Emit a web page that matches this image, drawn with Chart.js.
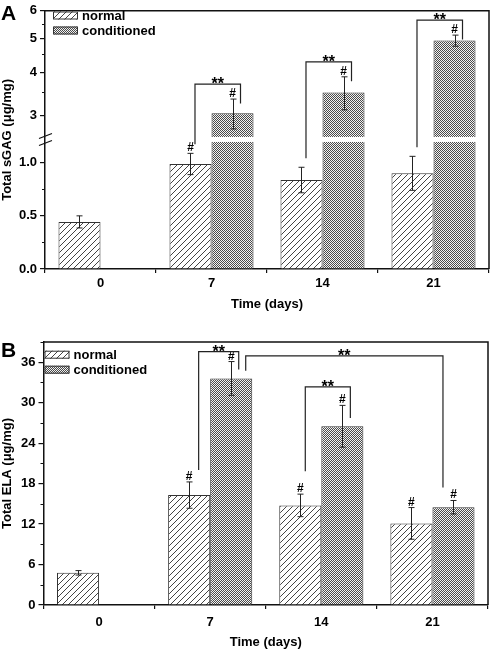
<!DOCTYPE html>
<html>
<head>
<meta charset="utf-8">
<script src="https://cdn.jsdelivr.net/npm/chart.js@4.4.1/dist/chart.umd.min.js"></script>
<style>
  html, body { margin: 0; padding: 0; background: #fff; }
  #wrapA { position: absolute; left: 0; top: 0; width: 491px; height: 322px; }
  #wrapB { position: absolute; left: 0; top: 325px; width: 491px; height: 326px; }
</style>
</head>
<body>
<div id="wrapA"><canvas id="chartA" width="491" height="322"></canvas></div>
<div id="wrapB"><canvas id="chartB" width="491" height="326"></canvas></div>
<script>
// ---- data ----
var days = ['0', '7', '14', '21'];
var seriesNames = ['normal', 'conditioned'];

var sgagNormal    = [0.443, 0.988, 0.837, 0.90];
var sgagNormalErr = [0.057, 0.10, 0.12, 0.16];
var sgagCond      = [null, 3.05, 3.50, 4.93];
var sgagCondErr   = [null, 0.30, 0.38, 0.18];
var sgagHashNormal = [false, true, false, false];
var sgagHashCond   = [false, true, true, true];
var sgagTicks      = [0, 0.5, 1.0, 3, 4, 5, 6];
var sgagTickLabels = ['0.0', '0.5', '1.0', '3', '4', '5', '6'];
var sgagMinor      = [0.25, 0.75, 3.5, 4.5, 5.5];

var elaNormal    = [4.77, 16.3, 14.77, 12.1];
var elaNormalErr = [0.33, 1.95, 1.67, 2.35];
var elaCond      = [null, 33.6, 26.5, 14.5];
var elaCondErr   = [null, 2.5, 3.1, 1.0];
var elaHashNormal = [false, true, true, true];
var elaHashCond   = [false, true, true, true];
var elaTicks      = [0, 6, 12, 18, 24, 30, 36];
var elaTickLabels = ['0', '6', '12', '18', '24', '30', '36'];
var elaMinor      = [3, 9, 15, 21, 27, 33, 39];

var FONT = "'Liberation Sans', Arial, sans-serif";
var INK = '#111';

// ---- broken y axis for panel A: linear 0-1.2 below, log 2.6-6 above ----
var LOW_TOP = 1.2, HIGH_BOTTOM = 2.6, HIGH_TOP = 6;
var LOW_FRAC = 0.494, HIGH_FRAC = 0.5095;

function brokenDecimal(v) {
  if (v <= LOW_TOP) return v / LOW_TOP * LOW_FRAC;
  if (v < HIGH_BOTTOM) return LOW_FRAC + (v - LOW_TOP) / (HIGH_BOTTOM - LOW_TOP) * (HIGH_FRAC - LOW_FRAC);
  return HIGH_FRAC + Math.log(v / HIGH_BOTTOM) / Math.log(HIGH_TOP / HIGH_BOTTOM) * (1 - HIGH_FRAC);
}
function brokenValue(d) {
  if (d <= LOW_FRAC) return d / LOW_FRAC * LOW_TOP;
  if (d < HIGH_FRAC) return LOW_TOP + (d - LOW_FRAC) / (HIGH_FRAC - LOW_FRAC) * (HIGH_BOTTOM - LOW_TOP);
  return HIGH_BOTTOM * Math.pow(HIGH_TOP / HIGH_BOTTOM, (d - HIGH_FRAC) / (1 - HIGH_FRAC));
}

class BrokenScale extends Chart.LinearScale {
  getPixelForValue(value) {
    if (value === null || value === undefined || isNaN(value)) return NaN;
    return this.getPixelForDecimal(brokenDecimal(value));
  }
  getValueForPixel(pixel) {
    return brokenValue(this.getDecimalForPixel(pixel));
  }
}
BrokenScale.id = 'broken';
BrokenScale.defaults = Chart.LinearScale.defaults;
Chart.register(BrokenScale);

// ---- fill patterns ----
function makeHatch() {
  var c = document.createElement('canvas');
  c.width = 6; c.height = 6;
  var g = c.getContext('2d');
  g.fillStyle = '#fff';
  g.fillRect(0, 0, 6, 6);
  g.strokeStyle = '#444';
  g.lineWidth = 1;
  g.beginPath();
  g.moveTo(-3, 3); g.lineTo(3, -3);
  g.moveTo(0, 6); g.lineTo(6, 0);
  g.moveTo(3, 9); g.lineTo(9, 3);
  g.stroke();
  return g.createPattern(c, 'repeat');
}
function makeDots() {
  var c = document.createElement('canvas');
  c.width = 2; c.height = 2;
  var g = c.getContext('2d');
  g.fillStyle = '#f2f2f2';
  g.fillRect(0, 0, 2, 2);
  g.fillStyle = '#4a4a4a';
  g.fillRect(0, 0, 1, 1);
  g.fillRect(1, 1, 1, 1);
  return g.createPattern(c, 'repeat');
}
var hatch = makeHatch();
var dots = makeDots();

// ---- decorations: error bars, #, brackets, legend, frame ----
var decor = {
  id: 'decor',
  afterDraw: function (chart, args, o) {
    var ctx = chart.ctx, area = chart.chartArea, y = chart.scales.y;
    ctx.save();

    function bar(di, i) { return chart.getDatasetMeta(di).data[i]; }
    function errTop(di, i) {
      var v = chart.data.datasets[di].data[i];
      return y.getPixelForValue(v + o.errors[di][i]);
    }

    // white gap through bars at the axis break
    if (o.gap) {
      var g1 = y.getPixelForValue(o.gap[0]), g2 = y.getPixelForValue(o.gap[1]);
      ctx.fillStyle = '#fff';
      chart.data.datasets.forEach(function (ds, di) {
        ds.data.forEach(function (v, i) {
          if (v !== null && v > o.gap[1]) {
            var b = bar(di, i);
            ctx.fillRect(b.x - b.width / 2 - 1, g2 - 0.5, b.width + 2, g1 - g2 + 1);
          }
        });
      });
      // break marks on the left axis
      var gc = (g1 + g2) / 2;
      ctx.strokeStyle = INK;
      ctx.lineWidth = 1.2;
      ctx.beginPath();
      [-3.5, 3.5].forEach(function (d) {
        ctx.moveTo(area.left - 6, gc + d + 2.5);
        ctx.lineTo(area.left + 7, gc + d - 2.5);
      });
      ctx.stroke();
    }

    // minor ticks
    ctx.strokeStyle = INK;
    ctx.lineWidth = 1.2;
    ctx.beginPath();
    o.minor.forEach(function (v) {
      var py = Math.round(y.getPixelForValue(v)) + 0.5;
      ctx.moveTo(area.left - 3, py);
      ctx.lineTo(area.left, py);
    });
    ctx.stroke();

    // frame top/right
    ctx.lineWidth = 1.5;
    ctx.beginPath();
    ctx.moveTo(area.left, area.top);
    ctx.lineTo(area.right, area.top);
    ctx.lineTo(area.right, area.bottom);
    ctx.stroke();

    // error bars
    ctx.strokeStyle = '#222';
    ctx.lineWidth = 1;
    chart.data.datasets.forEach(function (ds, di) {
      ds.data.forEach(function (v, i) {
        var e = o.errors[di][i];
        if (v === null || e === null) return;
        var b = bar(di, i);
        var x = Math.round(b.x) + 0.5;
        var t = y.getPixelForValue(v + e), btm = y.getPixelForValue(v - e);
        ctx.beginPath();
        ctx.moveTo(x, t); ctx.lineTo(x, btm);
        ctx.moveTo(x - 3, t); ctx.lineTo(x + 3, t);
        ctx.moveTo(x - 3, btm); ctx.lineTo(x + 3, btm);
        ctx.stroke();
      });
    });

    // # marks
    ctx.fillStyle = '#000';
    ctx.font = 'bold 12px ' + FONT;
    ctx.textAlign = 'center';
    ctx.textBaseline = 'alphabetic';
    o.hashes.forEach(function (flags, di) {
      flags.forEach(function (f, i) {
        if (!f) return;
        ctx.fillText('#', bar(di, i).x, errTop(di, i) - 2);
      });
    });

    // significance brackets
    ctx.strokeStyle = '#222';
    ctx.lineWidth = 1.2;
    o.brackets.forEach(function (k) {
      var ta = errTop(k.a[0], k.a[1]), tb = errTop(k.b[0], k.b[1]);
      var xa = bar(k.a[0], k.a[1]).x + k.dx[0];
      var xb = bar(k.b[0], k.b[1]).x + k.dx[1];
      var top = Math.min(ta, tb) + k.top;
      ctx.beginPath();
      ctx.moveTo(xa, ta + k.legs[0]);
      ctx.lineTo(xa, top);
      ctx.lineTo(xb, top);
      ctx.lineTo(xb, tb + k.legs[1]);
      ctx.stroke();
      ctx.font = 'bold 16px ' + FONT;
      ctx.fillText('**', (xa + xb) / 2, top + 5);
    });

    // legend
    var L = o.legend;
    ctx.font = 'bold 13px ' + FONT;
    ctx.textAlign = 'left';
    ctx.textBaseline = 'middle';
    chart.data.datasets.forEach(function (ds, di) {
      var by = L.y + di * 15;
      ctx.fillStyle = ds.backgroundColor;
      ctx.fillRect(L.x, by, 25, 8);
      ctx.strokeStyle = '#333';
      ctx.lineWidth = 1;
      ctx.strokeRect(L.x + 0.5, by + 0.5, 24, 7);
      ctx.fillStyle = '#000';
      ctx.fillText(ds.label, L.x + 29, by + 4.5);
    });

    // panel letter
    ctx.font = 'bold 21px ' + FONT;
    ctx.textBaseline = 'alphabetic';
    ctx.fillText(o.letter.text, o.letter.x, o.letter.y);

    ctx.restore();
  }
};

function tickFont(size) {
  return { family: FONT, size: size, weight: 'bold' };
}

function makeChart(id, cfg) {
  return new Chart(document.getElementById(id), {
    type: 'bar',
    data: {
      labels: days,
      datasets: [
        { label: seriesNames[0], data: cfg.normal, backgroundColor: hatch, borderColor: '#333', borderWidth: 1,
          barPercentage: 1, categoryPercentage: 0.757 },
        { label: seriesNames[1], data: cfg.cond, backgroundColor: dots, borderColor: '#333', borderWidth: 1,
          barPercentage: 1, categoryPercentage: 0.757 }
      ]
    },
    options: {
      responsive: false,
      animation: false,
      devicePixelRatio: 1,
      layout: { padding: cfg.padding },
      plugins: {
        legend: { display: false },
        tooltip: { enabled: false },
        decor: cfg.decor
      },
      scales: {
        x: {
          grid: { offset: true, drawOnChartArea: false, drawTicks: true, tickLength: 4, color: INK, lineWidth: 1.2 },
          border: { color: INK, width: 1.5 },
          ticks: { color: '#000', font: tickFont(13), padding: cfg.xTickPad },
          title: { display: true, text: 'Time (days)', color: '#000', font: tickFont(13),
                   padding: { top: 0, bottom: cfg.xTitlePad } },
          afterFit: function (s) { s.height = cfg.xHeight; }
        },
        y: {
          type: cfg.yType,
          min: cfg.yMin,
          max: cfg.yMax,
          afterBuildTicks: function (s) {
            s.ticks = cfg.ticks.map(function (v) { return { value: v }; });
          },
          grid: { drawOnChartArea: false, tickLength: 5, color: INK, lineWidth: 1.2 },
          border: { color: INK, width: 1.5 },
          ticks: {
            autoSkip: false,
            color: '#000',
            font: tickFont(13),
            padding: 3,
            callback: function (v, i) { return cfg.tickLabels[i]; }
          },
          title: { display: true, text: cfg.yTitle, color: '#000', font: tickFont(13), padding: 0 },
          afterFit: function (s) { s.width = cfg.yWidth; }
        }
      }
    },
    plugins: [decor]
  });
}

makeChart('chartA', {
  normal: sgagNormal,
  cond: sgagCond,
  yType: 'broken',
  yMin: 0,
  yMax: 6,
  ticks: sgagTicks,
  tickLabels: sgagTickLabels,
  yTitle: 'Total sGAG (\u03bcg/mg)',
  padding: { top: 6, right: 2, left: 0, bottom: 0 },
  yWidth: 45,
  xHeight: 53,
  xTickPad: 3,
  xTitlePad: 10,
  decor: {
    errors: [sgagNormalErr, sgagCondErr],
    hashes: [sgagHashNormal, sgagHashCond],
    minor: sgagMinor,
    gap: [LOW_TOP, HIGH_BOTTOM],
    brackets: [
      { a: [0, 1], b: [1, 1], dx: [4.5, 8], top: -15, legs: [-9, 4.5] },
      { a: [0, 2], b: [1, 2], dx: [4.5, 8], top: -15, legs: [-9, 4.5] },
      { a: [0, 3], b: [1, 3], dx: [4.5, 8], top: -15, legs: [-9, 4.5] }
    ],
    legend: { x: 53, y: 11.5 },
    letter: { text: 'A', x: 1, y: 20 }
  }
});

makeChart('chartB', {
  normal: elaNormal,
  cond: elaCond,
  yType: 'linear',
  yMin: 0,
  yMax: 39,
  ticks: elaTicks,
  tickLabels: elaTickLabels,
  yTitle: 'Total ELA (\u03bcg/mg)',
  padding: { top: 17, right: 3, left: 0, bottom: 0 },
  yWidth: 43.5,
  xHeight: 46,
  xTickPad: 6,
  xTitlePad: 1,
  decor: {
    errors: [elaNormalErr, elaCondErr],
    hashes: [elaHashNormal, elaHashCond],
    minor: elaMinor,
    gap: null,
    brackets: [
      { a: [0, 1], b: [1, 1], dx: [9.5, 7.5], top: -10, legs: [-12, 8] },
      { a: [0, 2], b: [1, 2], dx: [5, 8], top: -18.5, legs: [-23, 12.5] },
      { a: [1, 1], b: [1, 3], dx: [14.5, -10.5], top: -5.7, legs: [9.3, -13] }
    ],
    legend: { x: 44.5, y: 25.7 },
    letter: { text: 'B', x: 1, y: 32 }
  }
});
</script>
</body>
</html>
